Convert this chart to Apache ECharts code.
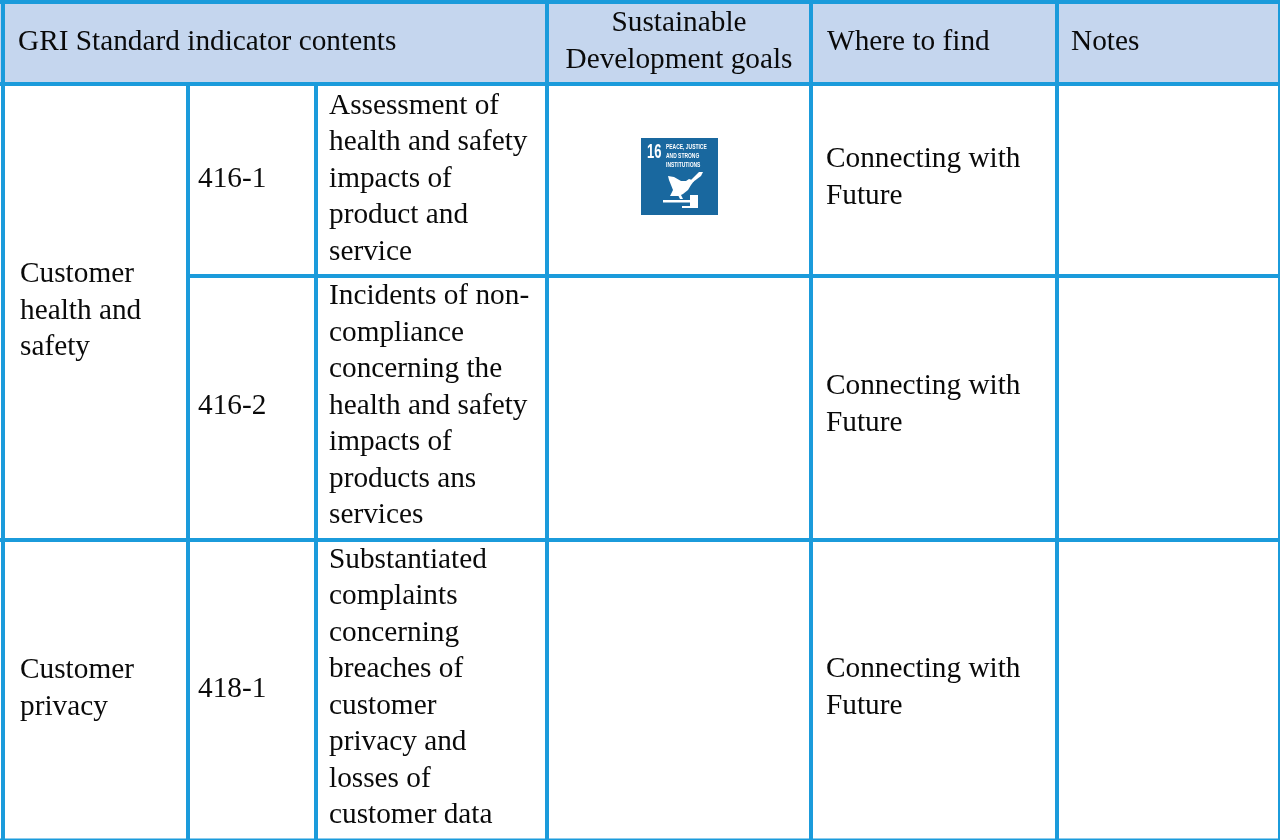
<!DOCTYPE html>
<html>
<head>
<meta charset="utf-8">
<title>GRI Standard indicator contents</title>
<style>
html, body { margin: 0; padding: 0; background: #fff; }
#main { width: 1280px; height: 840px; }
</style>
<script src="https://cdn.jsdelivr.net/npm/echarts@6/dist/echarts.min.js"></script>
</head>
<body>
<div id="main"></div>
<script>
// table contents
const headers = ['GRI Standard indicator contents', 'Sustainable\nDevelopment goals', 'Where to find', 'Notes'];
const topics = ['Customer\nhealth and\nsafety', 'Customer\nprivacy'];
const codes = ['416-1', '416-2', '418-1'];
const contents = [
    'Assessment of\nhealth and safety\nimpacts of\nproduct and\nservice',
    'Incidents of non-\ncompliance\nconcerning the\nhealth and safety\nimpacts of\nproducts ans\nservices',
    'Substantiated\ncomplaints\nconcerning\nbreaches of\ncustomer\nprivacy and\nlosses of\ncustomer data'
];
const whereToFind = ['Connecting with\nFuture', 'Connecting with\nFuture', 'Connecting with\nFuture'];
const sdgNumber = '16';
const sdgTitle = 'PEACE, JUSTICE\nAND STRONG\nINSTITUTIONS';

// text anchor rows, pixels on the 1280x840 axes
const headMid = 42;
const topicMid = [311, 689];
const codeMid = [179, 406, 689];
const contentMid = [179, 406, 688];
const findMid = [178, 405, 688];

const LINE = '#1b9bdb';
const HEAD = '#c5d6ee';
const INK = '#0a0a0a';
const SDG_BLUE = '#19689f';

let cells = [];
const text = (x, y, str, align) => cells.push({ kind: 'text', x, y, str, align: align || 'left' });
const rect = (x0, y0, x1, y1, fill) => cells.push({ kind: 'rect', x0, y0, x1, y1, fill });

// header band
rect(0, 0, 1280, 84, HEAD);

// borders
rect(0, 0, 1280, 4, LINE);
rect(0, 82, 1280, 86, LINE);
rect(190, 274, 1280, 278, LINE);
rect(0, 538, 1280, 542, LINE);
rect(0, 838.5, 1280, 840, LINE);
rect(1, 0, 5, 840, LINE);
rect(186, 84, 190, 840, LINE);
rect(314, 84, 318, 840, LINE);
rect(545, 0, 549, 840, LINE);
rect(809, 0, 813, 840, LINE);
rect(1055, 0, 1059, 840, LINE);
rect(1278, 0, 1280, 840, LINE);

// header text
text(18, headMid, headers[0]);
text(679, headMid, headers[1], 'center');
text(827, headMid, headers[2]);
text(1071, headMid, headers[3]);

// body text
topics.forEach((t, i) => text(20, topicMid[i], t));
codes.forEach((c, i) => text(198, codeMid[i], c));
contents.forEach((c, i) => text(329, contentMid[i], c));
whereToFind.forEach((w, i) => text(826, findMid[i], w));

// SDG 16 tile, shapes in tile pixels
const TILE = [641, 138, 77, 77];
const dove = [[27,38],[33,39],[40,43],[45,43],[48,41],[51,42],[53,43],[50,47],[47,52],[42,56],[38,58],[29,58],[32,52],[30,47],[28,42]];
const doveLegs = [[37,57],[40,57],[42,61],[39,61]];
const branch = [[50,42],[54,38],[58,34],[62,34],[60,38],[56,41],[52,44]];
const gavelHandle = [[22,62],[50,62],[50,64.5],[22,64.5]];
const gavelHead = [[49,57],[57,57],[57,69],[49,69]];
const gavelBase = [[41,68],[57,68],[57,70],[41,70]];

const chart = echarts.init(document.getElementById('main'), null, { renderer: 'canvas' });

function renderCell(params, api) {
    const c = cells[params.dataIndex];
    if (c.kind === 'rect') {
        const p0 = api.coord([c.x0, c.y0]);
        const p1 = api.coord([c.x1, c.y1]);
        return {
            type: 'rect',
            shape: { x: p0[0], y: p0[1], width: p1[0] - p0[0], height: p1[1] - p0[1] },
            style: { fill: c.fill }
        };
    }
    const p = api.coord([c.x, c.y]);
    return {
        type: 'text',
        style: {
            x: p[0], y: p[1], text: c.str, fill: INK, align: c.align, verticalAlign: 'middle',
            font: '29.3px "Liberation Serif", "Times New Roman", serif', lineHeight: 36.5
        }
    };
}

function renderTile(params, api) {
    const at = (x, y) => api.coord([TILE[0] + x, TILE[1] + y]);
    const o = at(0, 0);
    const poly = pts => ({ type: 'polygon', shape: { points: pts.map(q => at(q[0], q[1])) }, style: { fill: '#fff' } });
    const num = at(6, 14);
    const title = at(25, 18);
    return {
        type: 'group',
        children: [
            { type: 'rect', shape: { x: o[0], y: o[1], width: TILE[2], height: TILE[3] }, style: { fill: SDG_BLUE } },
            {
                type: 'text', x: num[0], y: num[1], scaleX: 0.62,
                style: { text: sdgNumber, fill: '#fff', verticalAlign: 'middle', font: 'bold 21px "Liberation Sans", sans-serif' }
            },
            {
                type: 'text', x: title[0], y: title[1], scaleX: 0.66,
                style: { text: sdgTitle, fill: '#fff', verticalAlign: 'middle', font: 'bold 7.5px "Liberation Sans", sans-serif', lineHeight: 8.7 }
            },
            poly(dove), poly(doveLegs), poly(branch), poly(gavelHandle), poly(gavelHead), poly(gavelBase)
        ]
    };
}

chart.setOption({
    animation: false,
    backgroundColor: '#fff',
    grid: { left: 0, right: 0, top: 0, bottom: 0 },
    xAxis: { type: 'value', min: 0, max: 1280, show: false },
    yAxis: { type: 'value', min: 0, max: 840, inverse: true, show: false },
    series: [
        {
            type: 'custom',
            silent: true,
            clip: false,
            renderItem: renderCell,
            encode: { x: 0, y: 1 },
            data: cells.map((c, i) => [c.x0 !== undefined ? c.x0 : c.x, c.y0 !== undefined ? c.y0 : c.y, i])
        },
        {
            type: 'custom',
            silent: true,
            clip: false,
            renderItem: renderTile,
            encode: { x: 0, y: 1 },
            data: [[TILE[0], TILE[1]]]
        }
    ]
});
</script>
</body>
</html>
